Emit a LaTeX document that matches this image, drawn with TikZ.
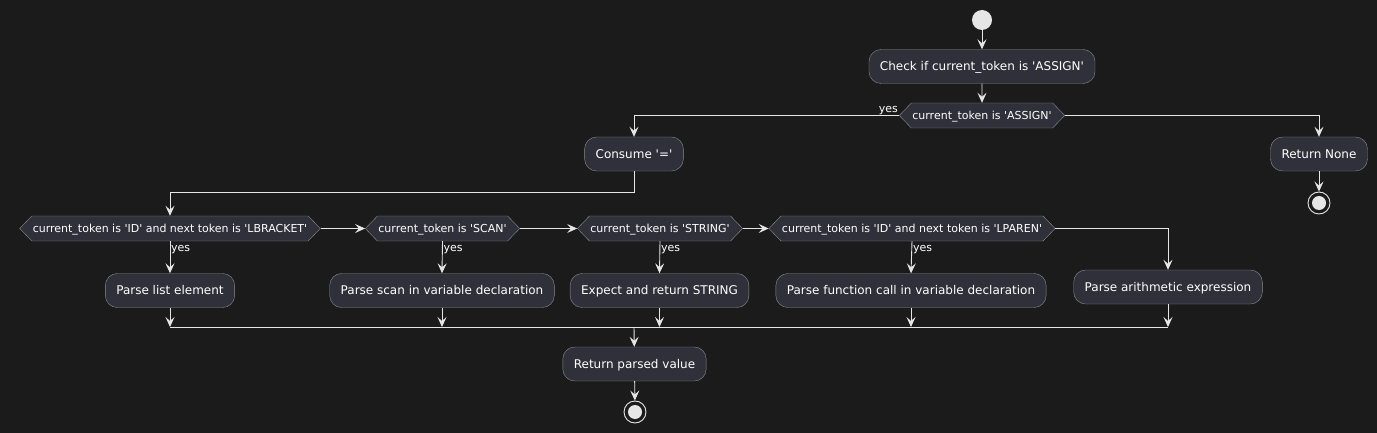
\documentclass[tikz,border=0pt]{standalone}
\usepackage{fontspec}
\setmainfont{DejaVu Sans}[Ligatures=TeXOff]
\usetikzlibrary{arrows.meta,shapes.symbols}

\definecolor{bgcol}{HTML}{1B1B1B}
\definecolor{boxcol}{HTML}{30303A}
\definecolor{bordcol}{HTML}{8C8C8C}
\definecolor{linecol}{HTML}{E6E6E6}

\tikzset{
  act/.style={draw=bordcol, fill=boxcol, rounded corners=12pt, minimum height=34pt,
    inner xsep=11pt, text=white, font=\fontsize{12}{14}\selectfont,
    text height=10pt, text depth=1.5pt},
  cond/.style={signal, signal to=west and east, signal pointer angle=92, draw=bordcol,
    fill=boxcol, minimum height=25pt, inner xsep=1pt, inner ysep=0pt, text=white,
    font=\fontsize{11}{13}\selectfont, text height=9pt, text depth=0.5pt},
  lbl/.style={text=white, font=\fontsize{11}{13}\selectfont, inner sep=1pt},
  flow/.style={draw=linecol, line width=0.9pt, -{Stealth[length=10pt,width=9pt,inset=4pt]}},
  wire/.style={draw=linecol, line width=0.9pt},
  startnode/.style={circle, fill=linecol, minimum size=20pt, inner sep=0pt},
  stopnode/.style={circle, draw=linecol, line width=0.9pt, minimum size=22pt, inner sep=0pt,
    path picture={\fill[linecol] (path picture bounding box.center) circle (7pt);}}
}

\begin{document}
\begin{tikzpicture}[x=1pt,y=-1pt]
\fill[bgcol] (0,0) rectangle (1377,433);
\useasboundingbox (0,0) rectangle (1377,433);

\node[startnode] (start) at (982,20) {};
\node[act] (check) at (982,66.5) {Check if current\_token is 'ASSIGN'};
\node[cond] (isassign) at (982,115.5) {current\_token is 'ASSIGN'};
\node[act] (consume) at (634,154) {Consume '='};
\node[act] (retnone) at (1319,154) {Return None};
\node[stopnode] (stopa) at (1319,203) {};

%% the chain of tests
\node[cond] (islbr) at (170,228.5) {current\_token is 'ID' and next token is 'LBRACKET'};
\node[cond] (isscan) at (442.5,228.5) {current\_token is 'SCAN'};
\node[cond] (isstr) at (660,228.5) {current\_token is 'STRING'};
\node[cond] (islpar) at (912,228.5) {current\_token is 'ID' and next token is 'LPAREN'};

\node[act] (listel) at (170,290.5) {Parse list element};
\node[act] (scan) at (442,290.5) {Parse scan in variable declaration};
\node[act] (string) at (659.5,290.5) {Expect and return STRING};
\node[act] (func) at (911,290.5) {Parse function call in variable declaration};
\node[act] (arith) at (1168,287) {Parse arithmetic expression};

\coordinate (merge) at (634,327);
\node[act] (retval) at (634.5,364) {Return parsed value};
\node[stopnode] (stopb) at (635,412) {};

\draw[flow] (start) -- (check);
\draw[flow] (check) -- (isassign);
\draw[flow] (isassign.west) -| (consume.north);
\node[lbl, anchor=south east] at (isassign.west) {yes};
\draw[flow] (isassign.east) -| (retnone.north);
\draw[flow] (retnone) -- (stopa);
\draw[flow] (consume.south) -- ++(0,21) -| (islbr.north);

\draw[flow] (islbr.east) -- (isscan.west);
\draw[flow] (isscan.east) -- (isstr.west);
\draw[flow] (isstr.east) -- (islpar.west);
\draw[flow] (islpar.east) -| (arith.north);

\draw[flow] (islbr.south) -- (listel.north);
\node[lbl, anchor=north west, yshift=-3pt] at (islbr.south) {yes};
\draw[flow] (isscan.south) -- (scan.north);
\node[lbl, anchor=north west, yshift=-3pt] at (isscan.south) {yes};
\draw[flow] (isstr.south) -- (string.north);
\node[lbl, anchor=north west, yshift=-3pt] at (isstr.south) {yes};
\draw[flow] (islpar.south) -- (func.north);
\node[lbl, anchor=north west, yshift=-3pt] at (islpar.south) {yes};

%% merge
\draw[flow] (listel.south) -- (listel.south |- merge);
\draw[flow] (scan.south) -- (scan.south |- merge);
\draw[flow] (string.south) -- (string.south |- merge);
\draw[flow] (func.south) -- (func.south |- merge);
\draw[flow] (arith.south) -- (arith.south |- merge);
\draw[wire] (listel.south |- merge) -- (arith.south |- merge);
\draw[flow] (merge) -- (retval);
\draw[flow] (retval) -- (stopb);
\end{tikzpicture}
\end{document}
